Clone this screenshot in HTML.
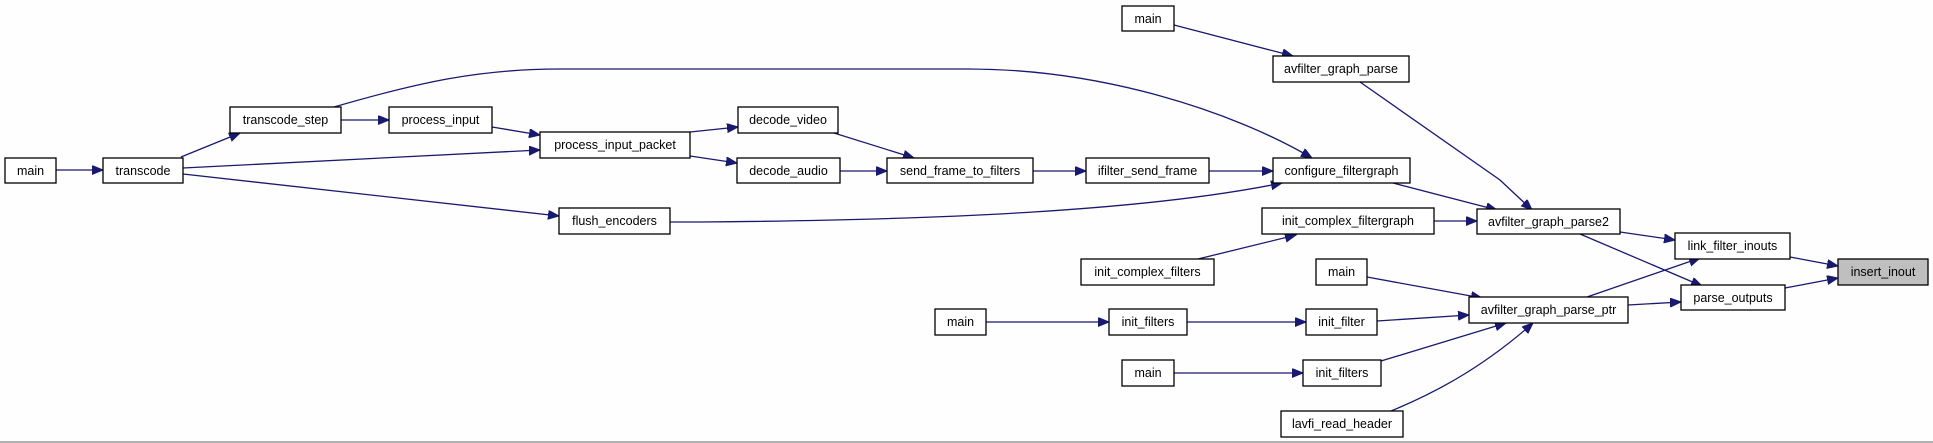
<!DOCTYPE html>
<html><head><meta charset="utf-8"><style>
html,body{margin:0;padding:0;background:#fdfefd;}
svg{display:block;}
text{font-family:"Liberation Sans",Arial,sans-serif;font-size:12.5px;fill:#000;text-anchor:middle;}
rect{fill:#fff;stroke:#000;stroke-width:1.3;}
path{fill:none;stroke:#191970;stroke-width:1.3;}
</style></head><body>
<svg width="1933" height="443" viewBox="0 0 1933 443" xmlns="http://www.w3.org/2000/svg">
<defs><marker id="a" markerUnits="userSpaceOnUse" markerWidth="12" markerHeight="10" refX="11" refY="4.5" orient="auto"><polygon points="0,0 11,4.5 0,9" fill="#191970" stroke="#191970"/></marker></defs>
<g marker-end="url(#a)">
<path d="M56,170 L103,170"/>
<path d="M181,157 L240,133"/>
<path d="M183,168 L540,150"/>
<path d="M183,174 L559,216"/>
<path d="M341,120 L389,120"/>
<path d="M492,127 L540,135"/>
<path d="M334,107 C420,82 480,69 560,69 L968,69 C1100,69 1230,110 1312,158"/>
<path d="M690,132 L738,127"/>
<path d="M690,156 L737,163"/>
<path d="M834,133 L914,158"/>
<path d="M840,171 L887,171"/>
<path d="M1033,171 L1086,171"/>
<path d="M1209,171 L1273,171"/>
<path d="M670,222 L700,222 C950,220 1150,210 1282,183"/>
<path d="M1174,25 L1293,56"/>
<path d="M1360,82 L1500,180 L1532,210"/>
<path d="M1393,183 L1497,210"/>
<path d="M1434,221 L1477,221"/>
<path d="M1198,259 L1296,235"/>
<path d="M1620,232 L1675,240"/>
<path d="M1580,234 L1702,286"/>
<path d="M1790,257 L1838,266"/>
<path d="M1785,288 L1838,278"/>
<path d="M1587,297 L1700,258"/>
<path d="M1628,305 L1681,302"/>
<path d="M1367,277 L1482,298"/>
<path d="M1377,321 L1469,315"/>
<path d="M1381,361 L1506,323"/>
<path d="M1391,411 C1430,395 1480,370 1533,323"/>
<path d="M986,322 L1109,322"/>
<path d="M1187,322 L1306,322"/>
<path d="M1174,373 L1303,373"/>
</g>
<g>
<rect x="5" y="158" width="51" height="25"/><text x="30.5" y="175">main</text>
<rect x="103" y="158" width="80" height="25"/><text x="143" y="175">transcode</text>
<rect x="230" y="107" width="111" height="26"/><text x="285.5" y="124">transcode_step</text>
<rect x="389" y="107" width="103" height="26"/><text x="440.5" y="124">process_input</text>
<rect x="540" y="132" width="150" height="26"/><text x="615" y="149">process_input_packet</text>
<rect x="559" y="208" width="111" height="26"/><text x="614.5" y="225">flush_encoders</text>
<rect x="738" y="107" width="100" height="26"/><text x="788" y="124">decode_video</text>
<rect x="737" y="158" width="103" height="25"/><text x="788.5" y="175">decode_audio</text>
<rect x="887" y="158" width="146" height="25"/><text x="960" y="175">send_frame_to_filters</text>
<rect x="1086" y="158" width="123" height="25"/><text x="1147.5" y="175">ifilter_send_frame</text>
<rect x="1273" y="158" width="137" height="25"/><text x="1341.5" y="175">configure_filtergraph</text>
<rect x="1122" y="6" width="52" height="25"/><text x="1148" y="23">main</text>
<rect x="1273" y="56" width="136" height="26"/><text x="1341" y="73">avfilter_graph_parse</text>
<rect x="1262" y="208" width="172" height="26"/><text x="1348" y="225">init_complex_filtergraph</text>
<rect x="1081" y="259" width="133" height="26"/><text x="1147.5" y="276">init_complex_filters</text>
<rect x="1316" y="259" width="51" height="26"/><text x="1341.5" y="276">main</text>
<rect x="935" y="309" width="51" height="26"/><text x="960.5" y="326">main</text>
<rect x="1109" y="309" width="78" height="26"/><text x="1148" y="326">init_filters</text>
<rect x="1306" y="309" width="71" height="26"/><text x="1341.5" y="326">init_filter</text>
<rect x="1122" y="360" width="52" height="26"/><text x="1148" y="377">main</text>
<rect x="1303" y="360" width="78" height="26"/><text x="1342" y="377">init_filters</text>
<rect x="1281" y="411" width="122" height="26"/><text x="1342" y="428">lavfi_read_header</text>
<rect x="1477" y="209" width="143" height="25"/><text x="1548.5" y="226">avfilter_graph_parse2</text>
<rect x="1469" y="297" width="159" height="26"/><text x="1548.5" y="314">avfilter_graph_parse_ptr</text>
<rect x="1675" y="233" width="115" height="26"/><text x="1732.5" y="250">link_filter_inouts</text>
<rect x="1681" y="285" width="104" height="25"/><text x="1733" y="302">parse_outputs</text>
<rect x="1838" y="259" width="90" height="26" style="fill:#bfbfbf"/><text x="1883" y="276">insert_inout</text>
</g>
<line x1="0" y1="442" x2="1933" y2="442" stroke="#b0b0b0" stroke-width="2"/>
</svg>
</body></html>
